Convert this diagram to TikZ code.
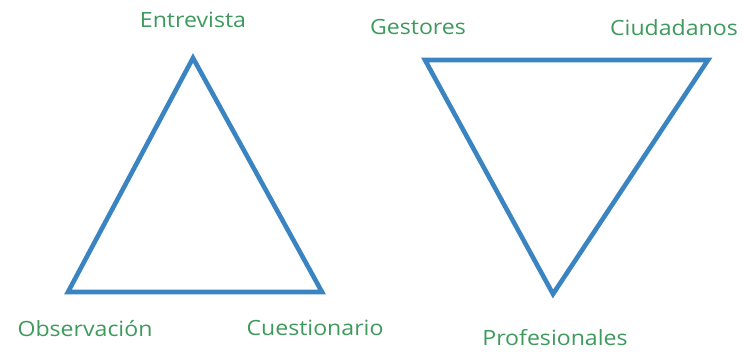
\documentclass[tikz,border=0pt]{standalone}
\usepackage{fontspec}
\setmainfont{Open Sans}
\definecolor{triblue}{HTML}{3A84C1}
\definecolor{lblgreen}{HTML}{3E9A5C}
\begin{document}
\begin{tikzpicture}[x=1pt,y=-1pt,
  tri/.style={draw=triblue,line width=4.6pt,line join=miter},
  lbl/.style={text=lblgreen,font=\fontsize{21}{25}\selectfont,inner sep=0pt,xscale=1.1}]
\useasboundingbox (0,0) rectangle (743,352);
% left triangle
\coordinate (A) at (193,58);
\coordinate (B) at (68,292);
\coordinate (C) at (322,292);
\draw[tri] (A) -- (B) -- (C) -- cycle;
% right triangle
\coordinate (D) at (425,60);
\coordinate (E) at (708,60);
\coordinate (F) at (553,294);
\draw[tri] (D) -- (E) -- (F) -- cycle;
% labels
\node[lbl] (entrevista) at (193,20) {Entrevista};
\node[lbl] (observacion) at (85,329) {Observación};
\node[lbl] (cuestionario) at (315,328) {Cuestionario};
\node[lbl] (gestores) at (418,27) {Gestores};
\node[lbl] (ciudadanos) at (674,28) {Ciudadanos};
\node[lbl] (profesionales) at (555,338) {Profesionales};
\end{tikzpicture}
\end{document}
